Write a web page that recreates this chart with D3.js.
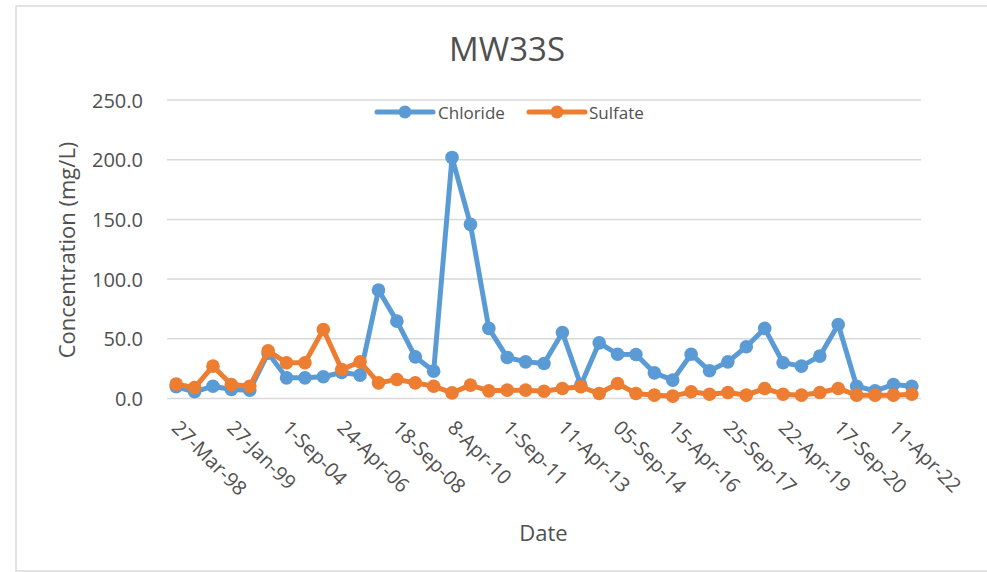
<!DOCTYPE html>
<html><head><meta charset="utf-8">
<script src="https://cdn.jsdelivr.net/npm/d3@7"></script>
<style>
html,body{margin:0;padding:0;background:#fff;}
svg{display:block;font-family:"Open Sans",sans-serif;}
</style></head>
<body>
<svg id="chart" width="987" height="572"></svg>
<script>
const title = "MW33S";
const seriesNames = ["Chloride", "Sulfate"];
const seriesColors = ["#5B9BD5", "#ED7D31"];
// 41 sampling events; only every third date is labelled on the axis
const sampleCount = 41;
const tickLabels = ["27-Mar-98","27-Jan-99","1-Sep-04","24-Apr-06","18-Sep-08","8-Apr-10","1-Sep-11",
  "11-Apr-13","05-Sep-14","15-Apr-16","25-Sep-17","22-Apr-19","17-Sep-20","11-Apr-22"];
const tickStep = 3;
const chloride = [9.8,5.6,10.3,7.5,7.0,38,17.3,17.3,18.2,21.8,19.6,90.8,64.8,34.9,22.9,201.9,145.8,58.7,
  34.4,30.7,29.3,55.3,11.2,46.6,37.1,36.9,21.5,15.4,37.1,23.2,30.7,43.3,58.7,29.9,27.1,35.5,62.0,10.3,6.4,11.7,10.3];
const sulfate = [12.0,9.2,27.1,11.7,10.3,39.9,29.9,29.9,57.8,24.3,30.7,13.1,15.9,13.1,10.3,4.7,11.2,6.4,7.0,
  7.0,6.1,8.4,9.8,4.2,12.6,4.2,2.8,2.0,5.6,3.6,5.0,2.8,8.4,3.6,2.8,5.0,8.4,2.8,2.8,2.8,3.6];
const yTicks = [0,50,100,150,200,250];
const yLabel = "Concentration (mg/L)";
const xLabel = "Date";

const svg = d3.select("#chart");
const textColor = "#505050";
const grid = "#d9d9d9";
const plot = {left:167, right:921, top:100, bottom:398.5};

// chart border
svg.append("rect").attr("x",16).attr("y",6).attr("width",1000).attr("height",565)
  .attr("fill","none").attr("stroke",grid).attr("stroke-width",1.5);

const x = d3.scaleBand().domain(d3.range(sampleCount)).range([plot.left, plot.right]);
const y = d3.scaleLinear().domain([0,250]).range([plot.bottom, plot.top]);
const cx = i => x(i) + x.bandwidth()/2;

// gridlines
svg.append("g").selectAll("line").data(yTicks).join("line")
  .attr("x1",plot.left).attr("x2",plot.right)
  .attr("y1",d=>y(d)).attr("y2",d=>y(d))
  .attr("stroke",grid).attr("stroke-width",1.5);

// y axis labels
const yAxis = d3.axisLeft(y).tickValues(yTicks).tickFormat(d3.format(".1f")).tickSize(0).tickPadding(0);
const gy = svg.append("g").attr("transform",`translate(${143},0)`).call(yAxis);
gy.select(".domain").remove();
gy.selectAll("text").attr("fill",textColor).style("font-size","20px").style("font-family","Open Sans").attr("dy","0.35em");

// x axis labels
const xAxis = d3.axisBottom(x).tickValues(d3.range(0, sampleCount, tickStep))
  .tickFormat(i => tickLabels[i/tickStep]).tickSize(0);
const gx = svg.append("g").attr("transform",`translate(0,${plot.bottom})`).call(xAxis);
gx.select(".domain").remove();
gx.selectAll(".tick text")
  .attr("fill",textColor).style("font-size","20px").style("font-family","Open Sans")
  .attr("text-anchor","start")
  .attr("x",0).attr("y",0).attr("dy","0.75em")
  .attr("transform","translate(5,20) rotate(45)");

// series
const series = [chloride, sulfate];
series.forEach((vals, s) => {
  const line = d3.line().x((d,i)=>cx(i)).y(d=>y(d));
  svg.append("path").datum(vals).attr("d",line).attr("fill","none")
    .attr("stroke",seriesColors[s]).attr("stroke-width",5).attr("stroke-linejoin","round");
  svg.append("g").selectAll("circle").data(vals).join("circle")
    .attr("cx",(d,i)=>cx(i)).attr("cy",d=>y(d)).attr("r",6.8).attr("fill",seriesColors[s]);
});

// title
svg.append("text").attr("x",507).attr("y",61).attr("text-anchor","middle")
  .attr("fill",textColor).style("font-size","33px").text(title);

// legend
const legend = [{x0:377, tx:438}, {x0:529, tx:589}];
legend.forEach((l, s) => {
  const g = svg.append("g");
  g.append("line").attr("x1",l.x0).attr("x2",l.x0+56).attr("y1",112).attr("y2",112)
    .attr("stroke",seriesColors[s]).attr("stroke-width",5).attr("stroke-linecap","round");
  g.append("circle").attr("cx",l.x0+28).attr("cy",112).attr("r",6.5).attr("fill",seriesColors[s]);
  g.append("text").attr("x",l.tx).attr("y",118.5).attr("fill",textColor)
    .style("font-size","17px").text(seriesNames[s]);
});

// axis titles
svg.append("text").attr("x",543.5).attr("y",541).attr("text-anchor","middle")
  .attr("fill",textColor).style("font-size","22px").text(xLabel);
svg.append("text").attr("transform","translate(75,250) rotate(-90)").attr("text-anchor","middle")
  .attr("fill",textColor).style("font-size","22px").text(yLabel);
</script>
</body></html>
